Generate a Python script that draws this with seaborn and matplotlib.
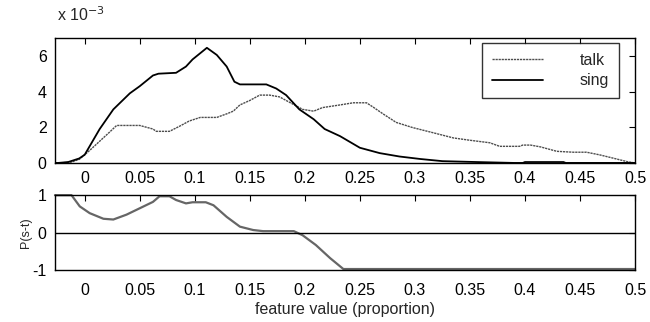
import matplotlib
matplotlib.use("Agg")
import matplotlib.pyplot as plt
import seaborn as sns
import pandas as pd

sns.set_style("white")
plt.rcParams['font.family'] = ['Liberation Sans', 'DejaVu Sans']
plt.rcParams['axes.unicode_minus'] = False

# sing (solid) density, units of 1e-3
sing_x = [-0.027, -0.024, -0.015, -0.005, 0.0, 0.0136, 0.026, 0.041, 0.05, 0.062, 0.067, 0.083,
          0.092, 0.098, 0.111, 0.12, 0.129, 0.136, 0.141, 0.165, 0.174, 0.183, 0.195, 0.208,
          0.218, 0.232, 0.25, 0.268, 0.286, 0.305, 0.325, 0.356, 0.39, 0.398, 0.40, 0.435,
          0.437, 0.5]
sing_y = [0.0, 0.0, 0.05, 0.25, 0.46, 1.9, 3.0, 3.9, 4.3, 4.9, 5.0, 5.05,
          5.4, 5.8, 6.45, 6.05, 5.4, 4.55, 4.4, 4.4, 4.17, 3.8, 3.0, 2.45,
          1.9, 1.5, 0.85, 0.55, 0.36, 0.22, 0.1, 0.05, 0.0, 0.0, 0.05, 0.05,
          0.0, 0.0]

# talk (dotted) density, units of 1e-3
talk_x = [-0.022, -0.012, -0.005, 0.0045, 0.023, 0.029, 0.05, 0.056, 0.062, 0.065, 0.077,
          0.086, 0.095, 0.105, 0.12, 0.129, 0.135, 0.141, 0.15, 0.159, 0.168, 0.177,
          0.186, 0.198, 0.208, 0.216, 0.232, 0.244, 0.256, 0.262, 0.271, 0.283, 0.298,
          0.316, 0.335, 0.35, 0.368, 0.377, 0.395, 0.398, 0.405, 0.414, 0.429, 0.444,
          0.456, 0.468, 0.48, 0.493, 0.5]
talk_y = [0.0, 0.05, 0.2, 0.7, 1.75, 2.1, 2.1, 2.0, 1.9, 1.77, 1.77,
          2.05, 2.35, 2.55, 2.55, 2.75, 2.9, 3.25, 3.5, 3.8, 3.8, 3.7,
          3.4, 3.0, 2.9, 3.1, 3.25, 3.37, 3.37, 3.13, 2.75, 2.27, 1.98,
          1.7, 1.4, 1.27, 1.13, 0.93, 0.93, 1.0, 1.0, 0.9, 0.65, 0.6,
          0.6, 0.45, 0.27, 0.07, 0.0]

# P(s-t)
p_x = [-0.027, -0.012, -0.0045, 0.0045, 0.017, 0.026, 0.038, 0.05, 0.062, 0.068, 0.077,
       0.083, 0.092, 0.098, 0.11, 0.117, 0.129, 0.141, 0.153, 0.162, 0.19, 0.198, 0.21,
       0.223, 0.235, 0.5]
p_y = [1.0, 1.0, 0.7, 0.52, 0.37, 0.35, 0.48, 0.65, 0.82, 0.97, 0.97,
       0.87, 0.78, 0.81, 0.81, 0.73, 0.42, 0.16, 0.07, 0.04, 0.04, -0.07, -0.33,
       -0.68, -0.97, -0.97]

xticks = [0, 0.05, 0.1, 0.15, 0.2, 0.25, 0.3, 0.35, 0.4, 0.45, 0.5]
xticklabels = ["0", "0.05", "0.1", "0.15", "0.2", "0.25", "0.3", "0.35", "0.4", "0.45", "0.5"]

FS = 11.5

fig = plt.figure(figsize=(6.5, 3.22), dpi=100)
ax1 = fig.add_axes([0.0846, 0.494, 0.8924, 0.388])
ax2 = fig.add_axes([0.0846, 0.161, 0.8924, 0.233])

df_talk = pd.DataFrame({"x": talk_x, "y": talk_y})
df_sing = pd.DataFrame({"x": sing_x, "y": sing_y})
df_p = pd.DataFrame({"x": p_x, "y": p_y})

sns.lineplot(data=df_talk, x="x", y="y", ax=ax1, color="0.3", lw=1.0,
             dashes=False, label="talk", sort=False)
ax1.lines[-1].set_linestyle((0, (1.6, 0.6)))
sns.lineplot(data=df_sing, x="x", y="y", ax=ax1, color="black", lw=1.3,
             label="sing", sort=False)

sns.lineplot(data=df_p, x="x", y="y", ax=ax2, color="0.4", lw=1.6, sort=False)
ax2.lines[-1].set_clip_on(False)
ax2.axhline(0, color="black", lw=1.0)

for ax in (ax1, ax2):
    ax.set_xlim(-0.027, 0.5)
    ax.set_xticks(xticks)
    ax.set_xticklabels(xticklabels)
    ax.tick_params(direction="in", top=True, right=True, length=4, width=0.8,
                   labelsize=FS, colors="black", pad=6)
    for s in ax.spines.values():
        s.set_color("black")
        s.set_linewidth(1.0)
    ax.set_xlabel("")
    ax.set_ylabel("")

ax2.tick_params(axis="x", pad=9)

ax1.set_ylim(0, 7)
ax1.set_yticks([0, 2, 4, 6])
ax2.set_ylim(-1, 1)
ax2.set_yticks([-1, 0, 1])
ax2.set_xlabel("feature value (proportion)", fontsize=FS, labelpad=3)
ax2.set_ylabel("P(s-t)", fontsize=9, labelpad=0)

fig.text(0.087, 0.925, "x 10$^{-3}$", fontsize=FS, ha="left", va="bottom")

leg = ax1.legend(loc="upper right", frameon=True, fontsize=FS, fancybox=False,
                 handlelength=3.2, handletextpad=2.3, borderpad=0.6,
                 labelspacing=0.35, borderaxespad=0.0,
                 bbox_to_anchor=(0.972, 0.96))
leg.get_frame().set_edgecolor("black")
leg.get_frame().set_linewidth(1.0)

fig.savefig("out.png", dpi=100)
